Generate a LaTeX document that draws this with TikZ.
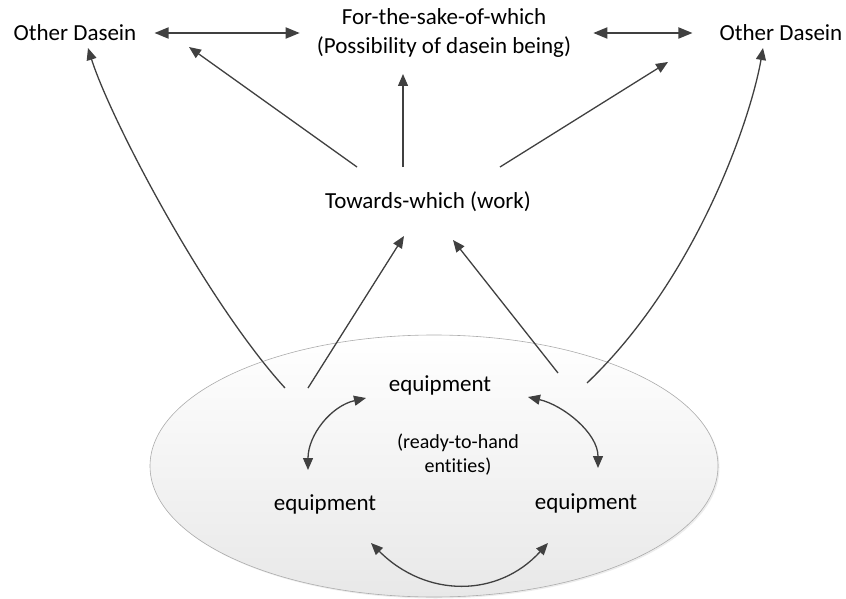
\documentclass[tikz,border=0pt]{standalone}
\usepackage{fontspec}
\setmainfont{Carlito}[Ligatures=NoCommon]
\usetikzlibrary{arrows.meta,shadows}
\definecolor{linegray}{HTML}{404040}
\tikzset{
	lbl/.style={font=\fontsize{23}{29}\selectfont, align=center, inner sep=3pt},
	smalllbl/.style={font=\fontsize{20}{24}\selectfont, align=center},
	arr/.style={linegray, line width=1.3pt, ->},
	dblarr/.style={linegray, line width=1.8pt, <->, >={Triangle[length=14pt,width=11pt]}},
}
\begin{document}
\begin{tikzpicture}[x=1pt, y=-1pt, >={Triangle[length=12pt,width=10pt]}]
	\useasboundingbox (0,0) rectangle (846,599);
	\shade[top color=white, bottom color=gray!18, draw=gray!65, line width=0.6pt,
		drop shadow={shadow xshift=1.5pt, shadow yshift=-1.5pt, opacity=0.15}] (434,466) ellipse [x radius=284pt, y radius=131pt];

	\node[lbl] (odleft) at (75,33) {Other Dasein};
	\node[lbl] (forsake) at (444,33) {For-the-sake-of-which\\(Possibility of dasein being)};
	\node[lbl] (odright) at (781,33) {Other Dasein};
	\node[lbl] (towards) at (428,202) {Towards-which (work)};
	\node[lbl] (eqtop) at (440,385) {equipment};
	\node[lbl] (eqleft) at (325,504) {equipment};
	\node[lbl] (eqright) at (586,503) {equipment};
	\node[smalllbl] (rth) at (458,455) {(ready-to-hand\\entities)};

	\draw[dblarr, shorten <=15pt, shorten >=14pt] (odleft) -- (forsake);
	\draw[dblarr, shorten <=19pt, shorten >=24pt] (forsake) -- (odright);

	\draw[arr] ([shift={(-71,-35)}]towards.center) -- ([shift={(-255,14)}]forsake.center);
	\draw[arr] ([shift={(-25,-35)}]towards.center) -- ([shift={(-41,41)}]forsake.center);
	\draw[arr] ([shift={(72,-35)}]towards.center) -- ([shift={(224,29)}]forsake.center);

	\draw[arr] ([shift={(-155,3)}]eqtop.center) .. controls +(-80,-88) and +(22,70) .. ([shift={(13,15)}]odleft.center);
	\draw[arr] ([shift={(147,-2)}]eqtop.center) .. controls +(110,-105) and +(-12,70) .. ([shift={(-18,15)}]odright.center);
	\draw[arr] ([shift={(-132,3)}]eqtop.center) -- ([shift={(-24,34)}]towards.center);
	\draw[arr] ([shift={(118,-12)}]eqtop.center) -- ([shift={(25,38)}]towards.center);

	\draw[arr, <->] ([shift={(-74,13)}]eqtop.center) .. controls +(-35,8) and +(0,-35) .. ([shift={(-17,-34)}]eqleft.center);
	\draw[arr, <->] ([shift={(88,12)}]eqtop.center) .. controls +(35,8) and +(0,-35) .. ([shift={(12,-35)}]eqright.center);
	\draw[arr, <->] ([shift={(46,39)}]eqleft.center) .. controls +(55,55) and +(-50,55) .. ([shift={(-38,40)}]eqright.center);
\end{tikzpicture}
\end{document}
